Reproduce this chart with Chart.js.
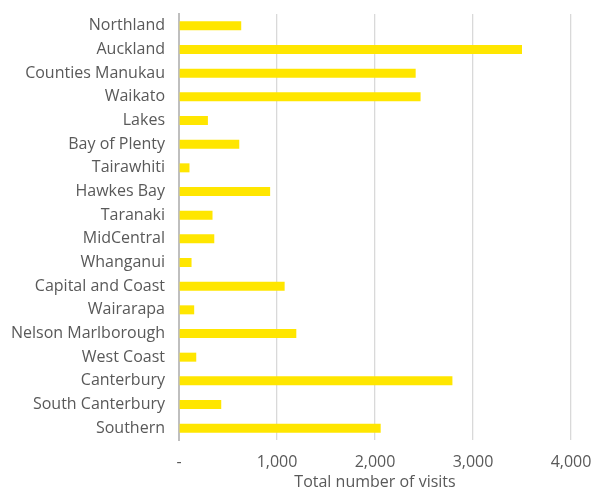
<!DOCTYPE html>
<html>
<head>
<meta charset="utf-8">
<script src="https://cdn.jsdelivr.net/npm/chart.js@4/dist/chart.umd.min.js"></script>
<style>
  html, body { margin: 0; padding: 0; background: #fff; }
  #wrap { width: 595px; height: 490px; }
</style>
</head>
<body>
<div id="wrap"><canvas id="visitsChart" width="595" height="490"></canvas></div>
<script>
// regions (DHB) and total visits
const regions = ['Northland', 'Auckland', 'Counties Manukau', 'Waikato', 'Lakes', 'Bay of Plenty',
  'Tairawhiti', 'Hawkes Bay', 'Taranaki', 'MidCentral', 'Whanganui', 'Capital and Coast',
  'Wairarapa', 'Nelson Marlborough', 'West Coast', 'Canterbury', 'South Canterbury', 'Southern'];
const visits = [635, 3500, 2415, 2465, 295, 615, 107, 930, 342, 360, 128, 1078, 155, 1197, 176, 2790, 431, 2058];
const xTicks = [0, 1000, 2000, 3000, 4000];

const fontName = "'Open Sans', 'Liberation Sans', sans-serif";
const grey = '#595959';

const ctx = document.getElementById('visitsChart').getContext('2d');
new Chart(ctx, {
  type: 'bar',
  data: {
    labels: regions,
    datasets: [{
      label: 'Total number of visits',
      data: visits,
      backgroundColor: '#FFE600',
      borderWidth: 0,
      barPercentage: 0.76,
      categoryPercentage: 0.5
    }]
  },
  options: {
    indexAxis: 'y',
    responsive: false,
    animation: false,
    layout: { padding: { top: 14, right: 0, left: 0, bottom: 0 } },
    plugins: {
      legend: { display: false },
      tooltip: { enabled: false }
    },
    scales: {
      x: {
        min: 0,
        max: 4000,
        afterBuildTicks: axis => { axis.ticks = xTicks.map(v => ({ value: v })); },
        afterFit: axis => {
          axis.height = 50;
          axis.paddingRight = 24;
        },
        grid: {
          color: '#d9d9d9',
          lineWidth: 1.3,
          drawTicks: false
        },
        border: { display: false },
        ticks: {
          color: grey,
          padding: 13,
          font: { family: fontName, size: 16 },
          callback: v => v === 0 ? '-' : v.toLocaleString('en-US')
        },
        title: {
          display: true,
          text: 'Total number of visits',
          color: grey,
          padding: { top: 0, bottom: -2 },
          font: { family: fontName, size: 16 }
        }
      },
      y: {
        afterFit: axis => {
          axis.width = 179;
          axis.paddingTop = 0;
          axis.paddingBottom = 0;
        },
        grid: { display: false, drawTicks: false },
        border: { display: true, color: '#bfbfbf', width: 2 },
        ticks: {
          color: grey,
          padding: 14,
          autoSkip: false,
          font: { family: fontName, size: 16 }
        }
      }
    }
  }
});
</script>
</body>
</html>
